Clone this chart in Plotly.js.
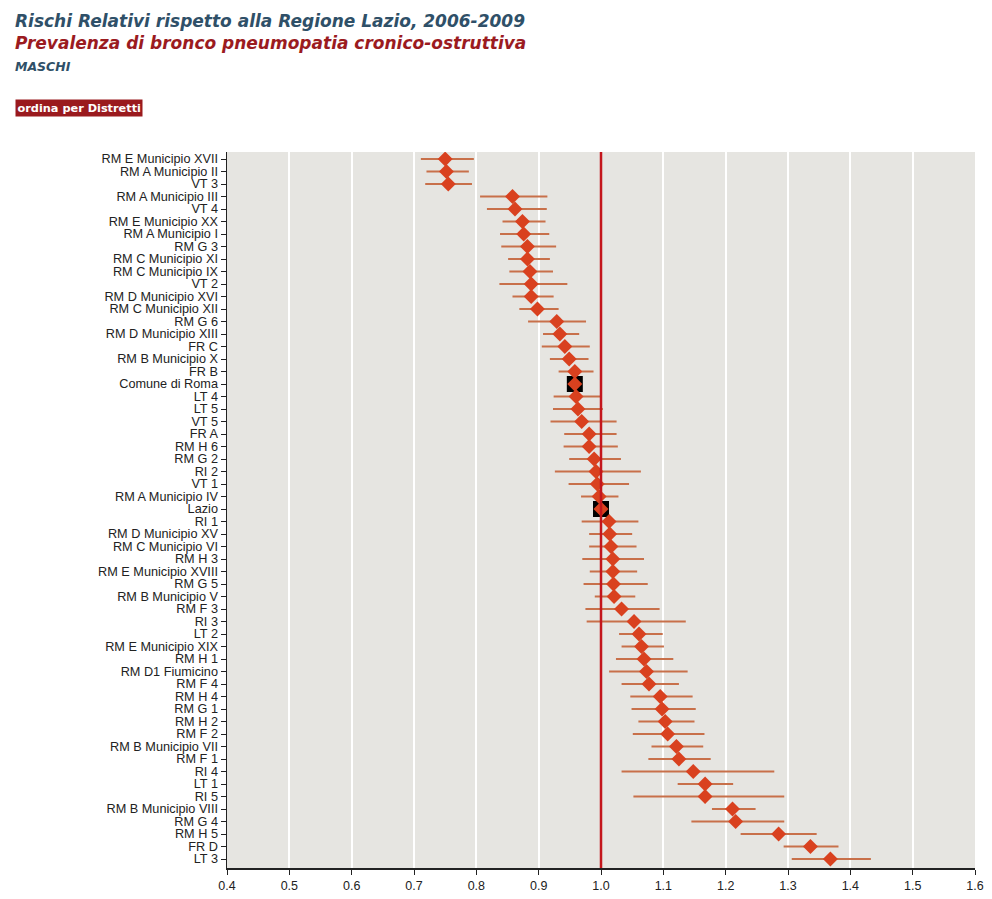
<!DOCTYPE html>
<html>
<head>
<meta charset="utf-8">
<script src="https://cdn.plot.ly/plotly-3.0.1.min.js"></script>
<style>
html,body{margin:0;padding:0;background:#fff;}
#chart{width:992px;height:899px;}
</style>
</head>
<body>
<div id="chart"></div>
<script>
// Categories (top to bottom)
var categories = [
  "RM E Municipio XVII","RM A Municipio II","VT 3","RM A Municipio III","VT 4",
  "RM E Municipio XX","RM A Municipio I","RM G 3","RM C Municipio XI","RM C Municipio IX",
  "VT 2","RM D Municipio XVI","RM C Municipio XII","RM G 6","RM D Municipio XIII",
  "FR C","RM B Municipio X","FR B","Comune di Roma","LT 4",
  "LT 5","VT 5","FR A","RM H 6","RM G 2",
  "RI 2","VT 1","RM A Municipio IV","Lazio","RI 1",
  "RM D Municipio XV","RM C Municipio VI","RM H 3","RM E Municipio XVIII","RM G 5",
  "RM B Municipio V","RM F 3","RI 3","LT 2","RM E Municipio XIX",
  "RM H 1","RM D1 Fiumicino","RM F 4","RM H 4","RM G 1",
  "RM H 2","RM F 2","RM B Municipio VII","RM F 1","RI 4",
  "LT 1","RI 5","RM B Municipio VIII","RM G 4","RM H 5",
  "FR D","LT 3"
];
// Relative risk
var rr = [
  0.750,0.752,0.755,0.858,0.862,
  0.874,0.876,0.882,0.882,0.886,
  0.888,0.888,0.898,0.929,0.934,
  0.942,0.949,0.958,0.958,0.960,
  0.963,0.969,0.981,0.981,0.989,
  0.992,0.994,0.997,1.000,1.013,
  1.014,1.016,1.019,1.019,1.020,
  1.021,1.033,1.053,1.061,1.065,
  1.069,1.073,1.077,1.095,1.098,
  1.103,1.107,1.121,1.125,1.148,
  1.167,1.167,1.211,1.216,1.285,
  1.336,1.368
];
// Lower confidence limit
var lo = [
  0.711,0.720,0.718,0.806,0.817,
  0.842,0.838,0.840,0.851,0.853,
  0.837,0.858,0.869,0.883,0.907,
  0.905,0.918,0.932,0.952,0.924,
  0.923,0.919,0.941,0.940,0.949,
  0.926,0.948,0.968,0.995,0.969,
  0.981,0.981,0.970,0.982,0.972,
  0.990,0.975,0.977,1.029,1.033,
  1.024,1.013,1.033,1.047,1.049,
  1.060,1.051,1.081,1.076,1.033,
  1.123,1.052,1.178,1.145,1.224,
  1.293,1.306
];
// Upper confidence limit
var hi = [
  0.796,0.788,0.793,0.914,0.913,
  0.911,0.917,0.928,0.918,0.923,
  0.946,0.924,0.932,0.976,0.965,
  0.982,0.980,0.988,0.965,0.999,
  1.003,1.025,1.025,1.027,1.032,
  1.064,1.045,1.028,1.005,1.060,
  1.050,1.057,1.069,1.058,1.075,
  1.055,1.094,1.136,1.099,1.101,
  1.116,1.139,1.125,1.147,1.152,
  1.150,1.166,1.164,1.176,1.278,
  1.212,1.294,1.248,1.294,1.346,
  1.381,1.433
];
var highlighted = ["Comune di Roma","Lazio"];
var xTicks = [0.4,0.5,0.6,0.7,0.8,0.9,1.0,1.1,1.2,1.3,1.4,1.5,1.6];
var refValue = 1.0;

var errPlus = rr.map(function(v,i){return hi[i]-v;});
var errMinus = rr.map(function(v,i){return v-lo[i];});

var hlX = [], hlY = [];
categories.forEach(function(c,i){ if(highlighted.indexOf(c)>=0){hlX.push(rr[i]); hlY.push(c);} });

var traces = [
  {
    type:'scatter', mode:'markers', x:hlX, y:hlY,
    marker:{symbol:'square', size:16, color:'#000000'},
    hoverinfo:'skip', showlegend:false
  },
  {
    type:'scatter', mode:'markers', x:rr, y:categories,
    marker:{symbol:'diamond', size:11.5, color:'#d9411f', line:{width:0}},
    error_x:{type:'data', symmetric:false, array:errPlus, arrayminus:errMinus,
             color:'#c8704a', thickness:2, width:0},
    showlegend:false
  }
];

var annFont = {family:'DejaVu Sans, Verdana, sans-serif', weight:'bold', style:'italic'};
function px2x(p){return (p-227)/748;}
function px2y(p){return (868-p)/716;}

var layout = {
  width:992, height:899,
  margin:{l:227, r:17, t:152, b:31},
  paper_bgcolor:'#ffffff',
  plot_bgcolor:'#e6e5e1',
  showlegend:false,
  font:{family:'Liberation Sans, Arial, sans-serif', size:12, color:'#222'},
  xaxis:{
    range:[0.4,1.6], tickmode:'array', tickvals:xTicks, ticktext:xTicks.map(function(v){return v.toFixed(1);}),
    showgrid:true, gridcolor:'#ffffff', gridwidth:2,
    zeroline:false, showline:true, linecolor:'#222', linewidth:1.5,
    ticks:'outside', ticklen:5, tickcolor:'#222', tickwidth:1,
    tickfont:{family:'Liberation Sans, Arial, sans-serif', size:12.5, color:'#222'}
  },
  yaxis:{
    type:'category', categoryorder:'array', categoryarray:categories,
    tickmode:'array', tickvals:categories, ticktext:categories,
    range:[56.72,-0.56],
    showgrid:false, zeroline:false, showline:true, linecolor:'#222', linewidth:1.5,
    ticks:'outside', ticklen:5, tickcolor:'#222', tickwidth:1,
    tickfont:{family:'Liberation Sans, Arial, sans-serif', size:12.7, color:'#222'}
  },
  shapes:[{
    type:'line', xref:'x', yref:'paper', x0:refValue, x1:refValue, y0:0, y1:1,
    line:{color:'#c4161c', width:2.5}, layer:'above'
  }],
  annotations:[
    {xref:'paper', yref:'paper', x:px2x(13), y:px2y(9), xanchor:'left', yanchor:'top',
     showarrow:false, text:'Rischi Relativi rispetto alla Regione Lazio, 2006-2009',
     font:Object.assign({size:17, color:'#2f5068'}, annFont)},
    {xref:'paper', yref:'paper', x:px2x(13), y:px2y(31), xanchor:'left', yanchor:'top',
     showarrow:false, text:'Prevalenza di bronco pneumopatia cronico-ostruttiva',
     font:Object.assign({size:17, color:'#9b1b1f'}, annFont)},
    {xref:'paper', yref:'paper', x:px2x(13), y:px2y(57), xanchor:'left', yanchor:'top',
     showarrow:false, text:'MASCHI',
     font:Object.assign({size:12.5, color:'#2f5068'}, annFont)},
    {xref:'paper', yref:'paper', x:px2x(15), y:px2y(99), xanchor:'left', yanchor:'top',
     showarrow:false, text:'ordina per Distretti', bgcolor:'#9a1a1e', borderpad:1.5,
     font:{family:'DejaVu Sans, Verdana, sans-serif', weight:'bold', size:11.3, color:'#ffffff'}}
  ]
};

Plotly.newPlot('chart', traces, layout, {displayModeBar:false, staticPlot:true});
</script>
</body>
</html>
